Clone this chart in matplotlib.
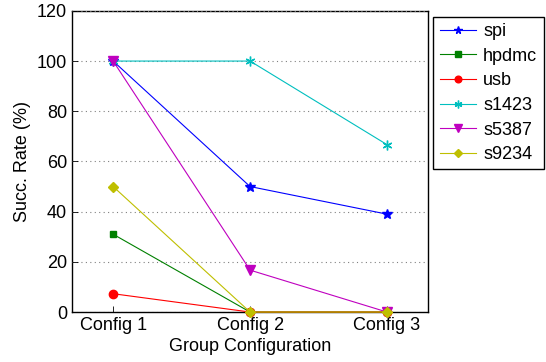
import matplotlib
matplotlib.use('Agg')
import matplotlib.pyplot as plt

configs = ['Config 1', 'Config 2', 'Config 3']
spi = [100, 50, 39]
hpdmc = [31, 0, 0]
usb = [7.3, 0, 0]
s1423 = [100, 100, 66.7]
s5387 = [100, 16.7, 0]
s9234 = [50, 0, 0]

plt.rcParams['font.family'] = ['Liberation Sans', 'DejaVu Sans']

fig = plt.figure(figsize=(5.46, 3.62), dpi=100)
ax = fig.add_axes([0.132, 0.138, 0.652, 0.832])

x = [1, 2, 3]
series = [
    ('spi', spi, 'b', '*', 7),
    ('hpdmc', hpdmc, (0, 0.5, 0), 's', 5),
    ('usb', usb, 'r', 'o', 6),
    ('s1423', s1423, (0, 0.75, 0.75), (6, 2, 0), 7),
    ('s5387', s5387, (0.75, 0, 0.75), 'v', 7),
    ('s9234', s9234, (0.75, 0.75, 0), 'D', 5.5),
]
for name, vals, col, mk, ms in series:
    ax.plot(x, vals, color=col, marker=mk, markersize=ms, linewidth=0.8,
            markeredgecolor=col, markerfacecolor=col, label=name, clip_on=False)

ax.set_xlim(0.7, 3.3)
ax.set_ylim(0, 120)
ax.set_xticks(x)
ax.set_xticklabels(configs)
ax.set_yticks(range(0, 121, 20))
ax.yaxis.grid(True, linestyle=(0, (1, 3)), color='gray', linewidth=0.8)
ax.tick_params(direction='in', labelsize=13, length=4, width=0.6, top=False, right=False)
for s in ax.spines.values():
    s.set_linewidth(1.0)
    s.set_zorder(1)

ax.set_xlabel('Group Configuration', fontsize=13, labelpad=3)
ax.set_ylabel('Succ. Rate (%)', fontsize=13, labelpad=4)

leg = ax.legend(loc='upper left', bbox_to_anchor=(1.015, 0.98), fontsize=13,
                fancybox=False, edgecolor='black', framealpha=1,
                handlelength=2.0, handletextpad=0.4, labelspacing=0.42,
                borderpad=0.35, borderaxespad=0, markerscale=0.8)
leg.get_frame().set_linewidth(1.0)

fig.savefig('out.png', dpi=100)
